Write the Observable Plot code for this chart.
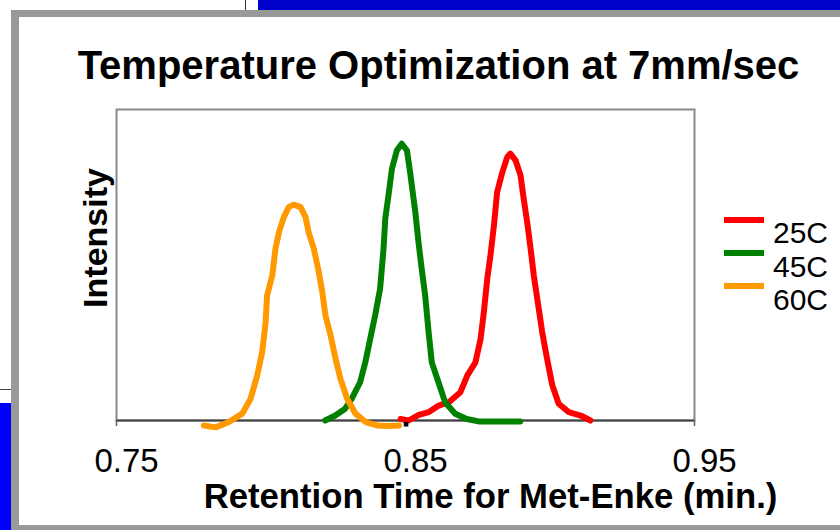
<!DOCTYPE html>
<html>
<head>
<meta charset="utf-8">
<script src="https://cdn.jsdelivr.net/npm/d3@7"></script>
<script src="https://cdn.jsdelivr.net/npm/@observablehq/plot@0.6"></script>
<style>
  body { margin: 0; background: #fff; }
  #wrap { position: relative; width: 840px; height: 530px; overflow: hidden; font-family: "Liberation Sans", Arial, sans-serif; }
  .deco { position: absolute; }
  .leg { position: absolute; font-size: 30px; line-height: 30px; color: #000; white-space: nowrap; }
</style>
</head>
<body>
<div id="wrap"></div>
<script>
// ---- chart data ----
const titleText = "Temperature Optimization at 7mm/sec";
const xLabelText = "Retention Time for Met-Enke (min.)";
const yLabelText = "Intensity";
const series = ["25C", "45C", "60C"];
const colors = ["#FF0000", "#008000", "#FF9900"];
const xTicks = [0.75, 0.85, 0.95];

const time25 = [0.8483, 0.8511, 0.8546, 0.8581, 0.8615, 0.8650, 0.8690, 0.8714, 0.8742, 0.8760, 0.8771, 0.8783, 0.8794, 0.8806, 0.8817, 0.8835, 0.8852, 0.8863, 0.8881, 0.8898, 0.8909, 0.8921, 0.8933, 0.8944, 0.8956, 0.8973, 0.8990, 0.9008, 0.9030, 0.9065, 0.9106, 0.9140];
const int25  = [0.5, 0.0, 1.8, 2.7, 4.8, 5.9, 9.1, 14.5, 18.7, 26.3, 34.8, 45.6, 53.1, 62.7, 73.4, 79.8, 84.7, 85.8, 83.6, 78.8, 71.3, 63.8, 55.2, 46.6, 39.1, 28.4, 19.8, 11.3, 5.4, 2.7, 1.6, 0.0];

const time45 = [0.8222, 0.8257, 0.8291, 0.8314, 0.8343, 0.8361, 0.8378, 0.8395, 0.8412, 0.8424, 0.8430, 0.8441, 0.8453, 0.8470, 0.8487, 0.8505, 0.8516, 0.8534, 0.8545, 0.8556, 0.8568, 0.8580, 0.8591, 0.8614, 0.8637, 0.8672, 0.8712, 0.8753, 0.8822, 0.8897];
const int45  = [0.0, 1.6, 3.8, 7.0, 12.3, 18.7, 26.3, 33.8, 42.3, 55.2, 64.9, 72.3, 80.9, 86.8, 89.0, 86.8, 79.8, 67.0, 57.3, 48.8, 40.2, 28.4, 18.7, 12.3, 5.9, 2.2, 0.5, -0.3, -0.3, -0.3];

const time60 = [0.7802, 0.7843, 0.7889, 0.7935, 0.7964, 0.7987, 0.8004, 0.8016, 0.8021, 0.8039, 0.8050, 0.8062, 0.8079, 0.8096, 0.8113, 0.8137, 0.8154, 0.8165, 0.8183, 0.8200, 0.8212, 0.8223, 0.8241, 0.8258, 0.8275, 0.8298, 0.8327, 0.8362, 0.8402, 0.8442, 0.8477];
const int60  = [-1.6, -2.2, -0.5, 2.2, 7.0, 14.5, 22.0, 31.6, 40.2, 46.6, 55.2, 60.5, 65.4, 68.6, 69.4, 68.6, 65.4, 60.5, 55.2, 47.7, 41.3, 33.8, 27.3, 19.8, 13.4, 7.0, 2.2, -0.5, -1.6, -1.8, -1.6];

// small black marker near the baseline
const markTime = [0.8502];
const markIntensity = [-1.2];

// ---- build table ----
const times = [time25, time45, time60];
const ints = [int25, int45, int60];
const rows = [];
series.forEach((s, i) => times[i].forEach((t, j) => rows.push({series: s, time: t, intensity: ints[i][j]})));
const markRows = markTime.map((t, i) => ({time: t, intensity: markIntensity[i]}));

const font = "'Liberation Sans', Arial, sans-serif";

const chart = Plot.plot({
  width: 840,
  height: 530,
  marginLeft: 116,
  marginRight: 146,
  marginTop: 109,
  marginBottom: 110,
  style: {fontFamily: font, background: "transparent", overflow: "visible", color: "#000"},
  x: {domain: [0.75, 0.95]},
  y: {domain: [0, 100], axis: null},
  color: {domain: series, range: colors},
  marks: [
    Plot.frame({stroke: "#8a8a8a", strokeWidth: 2}),
    Plot.ruleY([0], {stroke: "#404040", strokeWidth: 2}),
    Plot.axisX({ticks: xTicks, tickSize: 6, text: null, label: null, stroke: "#606060", strokeWidth: 1.5}),
    Plot.axisX({ticks: xTicks, tickSize: 0, tickPadding: 28, dx: 10, fontSize: 33, tickFormat: d3.format(".2f"), label: null, fill: "#000"}),
    ...series.map(s => Plot.line(rows.filter(r => r.series === s), {
      x: "time", y: "intensity", stroke: "series", strokeWidth: 6,
      strokeLinejoin: "round", strokeLinecap: "round"
    })),
    Plot.dot(markRows, {x: "time", y: "intensity", symbol: "square", r: 2.6, fill: "#000"}),
    Plot.text([titleText], {text: d => d, frameAnchor: "top", dx: 33, dy: -31, lineAnchor: "bottom", fontSize: 40, fontWeight: "bold", fill: "#000"}),
    Plot.text([xLabelText], {text: d => d, frameAnchor: "bottom", dx: 85, dy: 87, lineAnchor: "bottom", fontSize: 34.7, fontWeight: "bold", fill: "#000"}),
    Plot.text([yLabelText], {text: d => d, frameAnchor: "left", dx: -10, dy: -27, rotate: -90, textAnchor: "middle", lineAnchor: "bottom", fontSize: 34, fontWeight: "bold", fill: "#000"})
  ]
});

const wrap = document.getElementById("wrap");
chart.style.position = "absolute";
chart.style.left = "0px";
chart.style.top = "0px";
wrap.appendChild(chart);

// ---- slide decorations ----
function deco(l, t, w, h, bg) {
  const d = document.createElement("div");
  d.className = "deco";
  Object.assign(d.style, {left: l + "px", top: t + "px", width: w + "px", height: h + "px", background: bg});
  wrap.appendChild(d);
}
deco(245, 0, 1, 10, "#333");
deco(258, 0, 582, 10, "#0000CC");
deco(11, 10, 829, 7, "#999");
deco(11, 10, 8, 520, "#999");
deco(11, 525, 829, 5, "#999");
deco(0, 389, 11, 1, "#444");
deco(0, 403, 11, 127, "#0000FF");

// ---- legend ----
series.forEach((s, i) => {
  deco(724, 217 + i * 33, 40, 6, colors[i]);
  const lab = document.createElement("div");
  lab.className = "leg";
  lab.style.left = "773px";
  lab.style.top = (218 + i * 33.6) + "px";
  lab.textContent = s;
  wrap.appendChild(lab);
});
</script>
</body>
</html>
